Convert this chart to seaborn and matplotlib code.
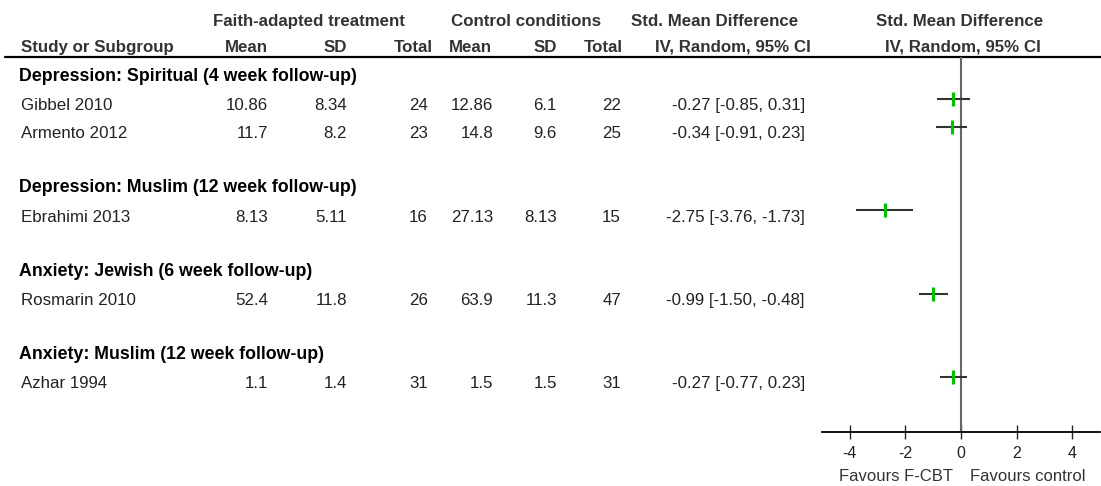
import numpy as np
import pandas as pd
import matplotlib
matplotlib.use("Agg")
import matplotlib.pyplot as plt
import seaborn as sns

# data
groups = ['Depression: Spiritual (4 week follow-up)',
          'Depression: Muslim (12 week follow-up)',
          'Anxiety: Jewish (6 week follow-up)',
          'Anxiety: Muslim (12 week follow-up)']
studies = ['Gibbel 2010', 'Armento 2012', 'Ebrahimi 2013', 'Rosmarin 2010', 'Azhar 1994']
study_group = [0, 0, 1, 2, 3]
ft_mean = [10.86, 11.7, 8.13, 52.4, 1.1]
ft_sd = [8.34, 8.2, 5.11, 11.8, 1.4]
ft_n = [24, 23, 16, 26, 31]
ct_mean = [12.86, 14.8, 27.13, 63.9, 1.5]
ct_sd = [6.1, 9.6, 8.13, 11.3, 1.5]
ct_n = [22, 25, 15, 47, 31]
smd = [-0.27, -0.34, -2.75, -0.99, -0.27]
ci_lo = [-0.85, -0.91, -3.76, -1.50, -0.77]
ci_hi = [0.31, 0.23, -1.73, -0.48, 0.23]
xticks = [-4, -2, 0, 2, 4]

# row layout: heading, studies, blank line
group_rows, study_rows = [], []
r = 0
for g in range(len(groups)):
    group_rows.append(r)
    r += 1
    for i, sg in enumerate(study_group):
        if sg == g:
            study_rows.append(r)
            r += 1
    r += 1

df = pd.DataFrame({'study': studies, 'row': study_rows, 'smd': smd,
                   'lo': ci_lo, 'hi': ci_hi})

sns.set_style("white")
plt.rcParams['font.family'] = ['Liberation Sans', 'DejaVu Sans']

W, H = 1101, 486
ROW0, PITCH = 71.2, 27.8   # pixel y of row 0, pixels per row


def px2row(y):
    return (y - ROW0) / PITCH


fig = plt.figure(figsize=(W / 100, H / 100), dpi=100)

# table part, x in pixels, y in rows
ax_t = fig.add_axes([0, 0, 1, 1])
ax_t.set_xlim(0, W)
ax_t.set_ylim(px2row(H), px2row(0))
ax_t.axis('off')

# forest part
top_px, bot_px, left_px, right_px = 57, 432, 822, 1100
ax = fig.add_axes([left_px / W, (H - bot_px) / H, (right_px - left_px) / W, (bot_px - top_px) / H])
ax.set_xlim(-5, 5)
ax.set_ylim(px2row(bot_px), px2row(top_px))
ax.patch.set_alpha(0)

hdr = dict(fontsize=12.2, fontweight='bold', color='#333333', va='center')
y1, y2 = px2row(21), px2row(47)
ax_t.text(309, y1, 'Faith-adapted treatment', ha='center', **hdr)
ax_t.text(526, y1, 'Control conditions', ha='center', **hdr)
ax_t.text(715, y1, 'Std. Mean Difference', ha='center', **hdr)
ax_t.text(960, y1, 'Std. Mean Difference', ha='center', **hdr)
ax_t.text(21, y2, 'Study or Subgroup', ha='left', **hdr)
for x, s in [(268, 'Mean'), (347, 'SD'), (433, 'Total'), (492, 'Mean'), (557, 'SD'), (623, 'Total')]:
    ax_t.text(x, y2, s, ha='right', **hdr)
ax_t.text(733, y2, 'IV, Random, 95% CI', ha='center', **hdr)
ax_t.text(963, y2, 'IV, Random, 95% CI', ha='center', **hdr)
ax_t.axhline(px2row(top_px), xmin=5 / W, xmax=1, color='black', lw=1.6)

# subgroup headings
for g, gr in zip(groups, group_rows):
    ax_t.text(19, gr + 0.2, g, ha='left', va='center', fontsize=12.8, fontweight='bold',
              color='black')

# study rows
cell = dict(fontsize=12.2, color='#222222', va='center')
for i, row in enumerate(study_rows):
    y = row + 0.25
    ax_t.text(21, y, studies[i], ha='left', **cell)
    ax_t.text(268, y, f"{ft_mean[i]:g}", ha='right', **cell)
    ax_t.text(347, y, f"{ft_sd[i]:g}", ha='right', **cell)
    ax_t.text(428, y, f"{ft_n[i]}", ha='right', **cell)
    ax_t.text(493, y, f"{ct_mean[i]:g}", ha='right', **cell)
    ax_t.text(557, y, f"{ct_sd[i]:g}", ha='right', **cell)
    ax_t.text(621, y, f"{ct_n[i]}", ha='right', **cell)
    ax_t.text(805, y, f"{smd[i]:.2f} [{ci_lo[i]:.2f}, {ci_hi[i]:.2f}]", ha='right', **cell)

# forest marks
ax.axvline(0, color='#666666', lw=1.5, zorder=1)
ax.hlines(df['row'], df['lo'], df['hi'], color='#333333', lw=1.5, zorder=2)
sns.scatterplot(data=df, x='smd', y='row', marker='|', s=100, linewidth=2.3,
                color='#00c000', ax=ax, zorder=3, legend=False)
ax.set_xlabel('')
ax.set_ylabel('')
ax.set_yticks([])
ax.set_xticks(xticks)
ax.set_xticklabels([str(t) for t in xticks])
for s in ['top', 'right', 'left']:
    ax.spines[s].set_visible(False)
ax.spines['bottom'].set_color('black')
ax.spines['bottom'].set_linewidth(1.3)
ax.tick_params(axis='x', direction='inout', length=10, width=1, pad=5,
               labelsize=11.5, labelcolor='#222222', bottom=True)

yf = px2row(476)
ax_t.text(953, yf, 'Favours F-CBT', ha='right', va='center', fontsize=12, color='#333333')
ax_t.text(970, yf, 'Favours control', ha='left', va='center', fontsize=12, color='#333333')

fig.savefig('out.png', dpi=100)
